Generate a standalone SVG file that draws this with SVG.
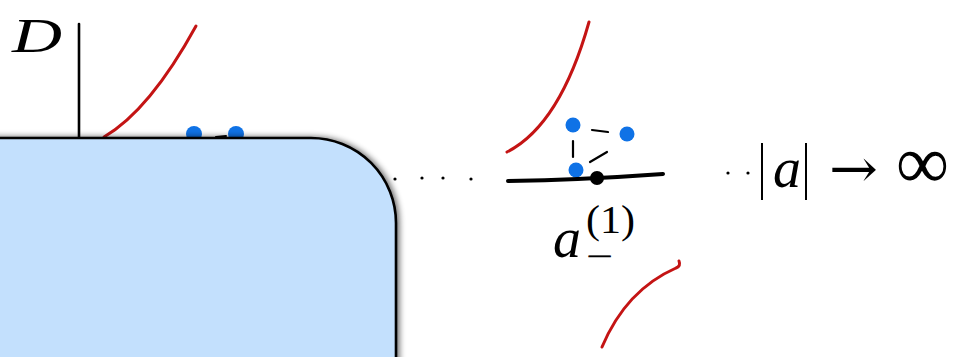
<svg xmlns="http://www.w3.org/2000/svg" width="961" height="357" viewBox="0 0 961 357">
<style>
.red{fill:none;stroke:#c41414;stroke-width:3;stroke-linecap:round}
.blk{fill:none;stroke:#000;stroke-linecap:round}
.bdot{fill:#0f72e6}
.m{font-family:"Liberation Serif","DejaVu Serif",serif;fill:#000}
.mi{font-family:"Liberation Serif","DejaVu Serif",serif;font-style:italic;fill:#000}
</style>
<defs>
<filter id="sh" x="-20%" y="-20%" width="140%" height="140%">
<feGaussianBlur in="SourceAlpha" stdDeviation="3"/>
<feOffset dx="2" dy="0" result="b"/>
<feComponentTransfer><feFuncA type="linear" slope="0.6"/></feComponentTransfer>
<feMerge><feMergeNode/><feMergeNode in="SourceGraphic"/></feMerge>
</filter>
</defs>
<rect width="961" height="357" fill="#fff"/>
<g id="left-region">
<text class="mi" x="12" y="52" font-size="48" textLength="50" lengthAdjust="spacingAndGlyphs">D</text>
<line class="blk" x1="79" y1="24" x2="79" y2="138" stroke-width="2.6"/>
<path class="red" d="M104,137 Q150,110 196,26"/>
<circle class="bdot" cx="194" cy="134" r="8"/>
<circle class="bdot" cx="236" cy="134" r="8"/>
<line class="blk" x1="216" y1="137" x2="226" y2="136" stroke-width="2"/>
<path id="box" d="M-20,138 L311,138 A85,85 0 0 1 396,223 L396,380 L-20,380 Z" fill="#c3e0fd" stroke="#000" stroke-width="2.6" filter="url(#sh)"/>
</g>
<g id="connectors">
<g fill="#000">
<circle cx="395" cy="179" r="1.6"/>
<circle cx="422" cy="178" r="1.6"/>
<circle cx="443" cy="178" r="1.6"/>
<circle cx="471" cy="179" r="1.6"/>
</g>
</g>
<g id="right-region">
<path class="red" d="M507,152 Q560,125 589,22"/>
<path class="red" d="M602,347 Q626,290 676,268 Q681,266 679,261"/>
<circle class="bdot" cx="573" cy="125" r="7.5"/>
<circle class="bdot" cx="627" cy="134" r="7.5"/>
<circle class="bdot" cx="576" cy="170" r="7.5"/>
<line class="blk" x1="592" y1="130" x2="608" y2="132" stroke-width="2.2"/>
<line class="blk" x1="573" y1="141" x2="573" y2="157" stroke-width="2.2"/>
<line class="blk" x1="590" y1="162" x2="607" y2="152" stroke-width="2.2"/>
<path class="blk" d="M508,181 Q580,180 663,174" stroke-width="4"/>
<circle cx="597" cy="178" r="7" fill="#000"/>
<text class="mi" x="553" y="257" font-size="56">a</text>
<text class="m" x="586" y="233" font-size="40" textLength="49" lengthAdjust="spacingAndGlyphs">(1)</text>
<text class="m" x="587" y="265" font-size="26" textLength="26" lengthAdjust="spacingAndGlyphs" stroke="#000" stroke-width="0.6">−</text>
</g>
<g id="limit-label">
<circle cx="728" cy="173" r="1.6" fill="#000"/>
<circle cx="748" cy="173" r="1.6" fill="#000"/>
<line x1="762" y1="143" x2="762" y2="200" stroke="#000" stroke-width="2"/>
<text class="mi" x="773" y="187" font-size="56">a</text>
<line x1="806" y1="143" x2="806" y2="200" stroke="#000" stroke-width="2"/>
<text x="829" y="187" font-size="54" font-family="'DejaVu Serif',serif" textLength="49" lengthAdjust="spacingAndGlyphs">→</text>
<text class="m" x="896" y="188" font-size="76" textLength="53" lengthAdjust="spacingAndGlyphs">∞</text>
</g>
</svg>
